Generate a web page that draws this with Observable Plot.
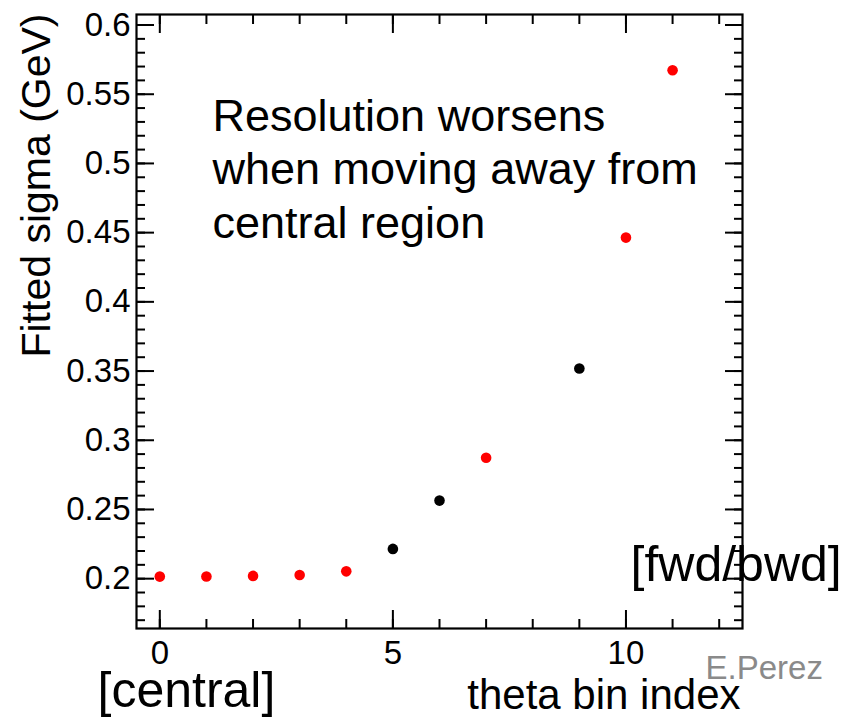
<!DOCTYPE html>
<html>
<head>
<meta charset="utf-8">
<script src="https://cdn.jsdelivr.net/npm/d3@7"></script>
<script src="https://cdn.jsdelivr.net/npm/@observablehq/plot@0.6"></script>
<style>
  html, body { margin: 0; padding: 0; background: #fff; }
  #chart svg { display: block; }
</style>
</head>
<body>
<div id="chart"></div>
<script>
// ---- data ----
const binIndex = [0, 1, 2, 3, 4, 5, 6, 7, 9, 10, 11];
const sigma    = [0.2015, 0.2016, 0.2020, 0.2027, 0.2053, 0.2215, 0.2564, 0.2874, 0.3518, 0.4464, 0.5673];
const sample   = ["A", "A", "A", "A", "A", "B", "B", "A", "B", "A", "A"];

const xMajorTicks = [0, 5, 10];
const xMinorTicks = [0, 1, 2, 3, 4, 5, 6, 7, 8, 9, 10, 11, 12];
const yMajorTicks = [0.2, 0.25, 0.3, 0.35, 0.4, 0.45, 0.5, 0.55, 0.6];
const yMinorTicks = d3.range(17, 61).map(v => v / 100);

const annotation = ["Resolution worsens", "when moving away from", "central region"];
const yTitle = "Fitted sigma (GeV)";
const xTitle = "theta bin index";
const leftNote = "[central]";
const rightNote = "[fwd/bwd]";
const author = "E.Perez";

const points = binIndex.map((b, i) => ({bin: b, sigma: sigma[i], sample: sample[i]}));

const font = "'Liberation Sans', Arial, Helvetica, sans-serif";
const note = (txt, opts) => Plot.text([txt], {
  text: d => d, frameAnchor: "top-left", lineAnchor: "bottom", fill: "black", fontFamily: font, ...opts
});
const tickAxis = (fn, anchor, ticks, size) =>
  fn({anchor, ticks, tickSize: size, strokeWidth: 2, tickFormat: () => "", label: null});

const chart = Plot.plot({
  width: 848,
  height: 720,
  marginLeft: 136,
  marginRight: 106,
  marginTop: 14,
  marginBottom: 92,
  style: {fontFamily: font, background: "white", color: "black"},
  x: {domain: [-0.5, 12.5], label: null},
  y: {domain: [0.164, 0.6076], label: null},
  color: {domain: ["A", "B"], range: ["#ff0000", "#000000"]},
  marks: [
    // minor ticks (inward)
    tickAxis(Plot.axisX, "bottom", xMinorTicks, -9),
    tickAxis(Plot.axisX, "top", xMinorTicks, -9),
    tickAxis(Plot.axisY, "left", yMinorTicks, -9),
    tickAxis(Plot.axisY, "right", yMinorTicks, -9),
    // major ticks (inward)
    tickAxis(Plot.axisX, "bottom", xMajorTicks, -18),
    tickAxis(Plot.axisX, "top", xMajorTicks, -18),
    tickAxis(Plot.axisY, "left", yMajorTicks, -18),
    tickAxis(Plot.axisY, "right", yMajorTicks, -18),
    // tick labels
    Plot.axisX({anchor: "bottom", ticks: xMajorTicks, tickSize: 0, tickPadding: 12, fontSize: 33,
      fill: "black", tickFormat: d => String(d), label: null}),
    Plot.axisY({anchor: "left", ticks: yMajorTicks, tickSize: 0, tickPadding: 6, fontSize: 33,
      fill: "black", tickFormat: d => String(+d.toFixed(2)), label: null}),
    Plot.frame({stroke: "black", strokeWidth: 2.2}),
    Plot.dot(points, {x: "bin", y: "sigma", fill: "sample", r: 5.3, stroke: null}),
    // annotations
    note(annotation.join("\n"), {dx: 76, dy: 223, fontSize: 45, lineHeight: 1.185, textAnchor: "start"}),
    note(yTitle, {dx: -87, dy: -1, fontSize: 41, rotate: -90, textAnchor: "end"}),
    note(xTitle, {dx: 604, dy: 694, fontSize: 42, textAnchor: "end"}),
    note(leftNote, {dx: -39, dy: 692, fontSize: 50, textAnchor: "start"}),
    note(rightNote, {dx: 494, dy: 566, fontSize: 50, textAnchor: "start"}),
    note(author, {dx: 569, dy: 664, fontSize: 33, textAnchor: "start", fill: "#8a8a8a"})
  ]
});
document.getElementById("chart").appendChild(chart);
</script>
</body>
</html>
